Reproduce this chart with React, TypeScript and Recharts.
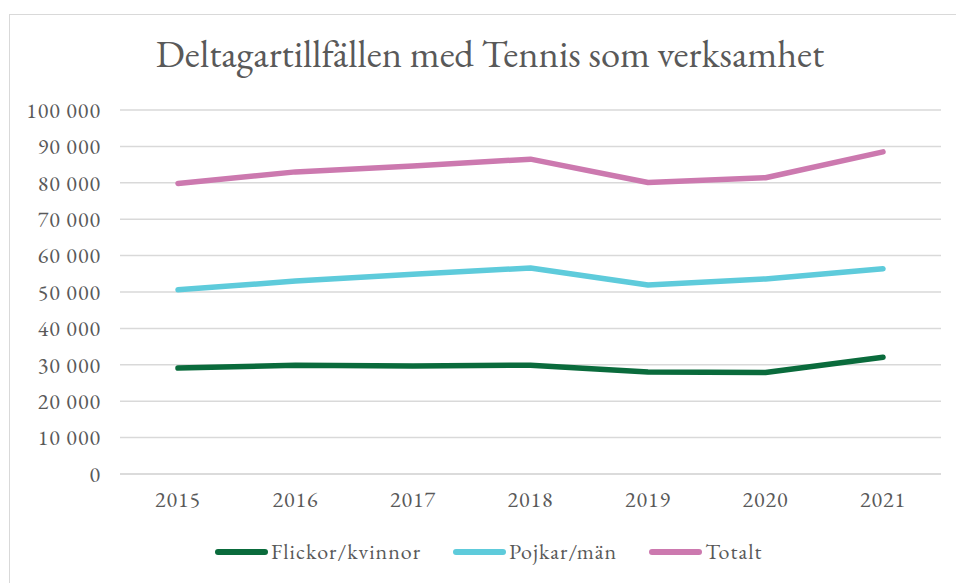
import { LineChart, Line, XAxis, YAxis, CartesianGrid } from 'recharts';

const years = ['2015', '2016', '2017', '2018', '2019', '2020', '2021'];
const flickor = [29100, 29900, 29700, 29900, 28000, 27900, 32100];
const pojkar = [50600, 53000, 54900, 56600, 51900, 53600, 56400];
const totalt = [79800, 83000, 84600, 86500, 80100, 81400, 88500];
const yTicks = [0, 10000, 20000, 30000, 40000, 50000, 60000, 70000, 80000, 90000, 100000];

const SERIES = [
  { key: 'flickor', name: 'Flickor/kvinnor', color: '#0a6b3c' },
  { key: 'pojkar', name: 'Pojkar/män', color: '#5ecbdb' },
  { key: 'totalt', name: 'Totalt', color: '#cc79af' },
];

const data = years.map((year, i) => ({
  year,
  flickor: flickor[i],
  pojkar: pojkar[i],
  totalt: totalt[i],
}));

const FONT = '"EB Garamond", "Liberation Serif", serif';
const TEXT = '#595959';

const fmt = (v: number) => v.toLocaleString('en-US').replace(/,/g, ' ');

const tickStyle = { fill: TEXT, fontSize: 22, fontFamily: FONT, letterSpacing: 1 };

export default function App() {
  return (
    <div style={{ position: 'absolute', left: 0, top: 0, width: 956, height: 583, background: '#fff', fontFamily: FONT, overflow: 'hidden' }}>
      <div style={{ position: 'absolute', left: 9, top: 14, width: 960, height: 600, border: '1.5px solid #d9d9d9' }} />
      <div style={{ position: 'absolute', left: 0, top: 28, width: 980, textAlign: 'center', fontSize: 38.5, color: TEXT, fontFamily: FONT }}>
        Deltagartillfällen med Tennis som verksamhet
      </div>
      <div style={{ position: 'absolute', left: 0, top: 0 }}>
        <LineChart width={956} height={583} data={data} margin={{ top: 110, right: 15, bottom: 79, left: 0 }}>
          <CartesianGrid vertical={false} stroke="#d9d9d9" strokeWidth={1.5} />
          <XAxis
            dataKey="year"
            height={30}
            padding={{ left: 58, right: 58 }}
            axisLine={{ stroke: '#d9d9d9', strokeWidth: 1.5 }}
            tickLine={false}
            tickMargin={11}
            tick={tickStyle}
          />
          <YAxis
            width={120}
            domain={[0, 100000]}
            ticks={yTicks}
            axisLine={false}
            tickLine={false}
            tickSize={0}
            tickMargin={19}
            tickFormatter={fmt}
            tick={tickStyle}
          />
          {SERIES.map((s) => (
            <Line
              key={s.key}
              dataKey={s.key}
              name={s.name}
              stroke={s.color}
              strokeWidth={5.5}
              strokeLinecap="round"
              strokeLinejoin="round"
              dot={false}
              type="linear"
              isAnimationActive={false}
            />
          ))}
        </LineChart>
      </div>
      <div style={{ position: 'absolute', left: 215, top: 537, display: 'flex', gap: 32, fontSize: 22, letterSpacing: 1, color: TEXT, fontFamily: FONT }}>
        {SERIES.map((s) => (
          <div key={s.key} style={{ display: 'flex', alignItems: 'center' }}>
            <span style={{ display: 'inline-block', width: 53, height: 6, borderRadius: 3, background: s.color, marginRight: 3 }} />
            <span>{s.name}</span>
          </div>
        ))}
      </div>
    </div>
  );
}
